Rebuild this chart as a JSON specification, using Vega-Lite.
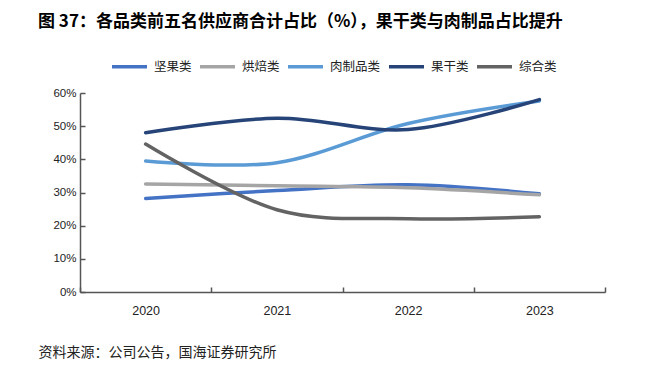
{
  "$schema": "https://vega.github.io/schema/vega-lite/v6.json",
  "autosize": {"type": "none"},
  "padding": {"left": 80, "top": 93, "right": 42, "bottom": 80},
  "width": 525,
  "height": 199,
  "background": "white",
  "title": {
    "text": "图 37：各品类前五名供应商合计占比（%），果干类与肉制品占比提升",
    "anchor": "start",
    "frame": "group",
    "dx": -42,
    "offset": 16,
    "font": "Noto Sans CJK SC",
    "fontSize": 17,
    "fontWeight": "bold",
    "color": "#000000"
  },
  "data": {
    "values": [
      {"year": "2020", "cat": "坚果类", "value": 28.2},
      {"year": "2021", "cat": "坚果类", "value": 30.6},
      {"year": "2022", "cat": "坚果类", "value": 32.3},
      {"year": "2023", "cat": "坚果类", "value": 29.6},
      {"year": "2020", "cat": "烘焙类", "value": 32.6},
      {"year": "2021", "cat": "烘焙类", "value": 32.0},
      {"year": "2022", "cat": "烘焙类", "value": 31.4},
      {"year": "2023", "cat": "烘焙类", "value": 29.3},
      {"year": "2020", "cat": "肉制品类", "value": 39.5},
      {"year": "2021", "cat": "肉制品类", "value": 39.0},
      {"year": "2022", "cat": "肉制品类", "value": 50.8},
      {"year": "2023", "cat": "肉制品类", "value": 57.6},
      {"year": "2020", "cat": "果干类", "value": 48.0},
      {"year": "2021", "cat": "果干类", "value": 52.4},
      {"year": "2022", "cat": "果干类", "value": 49.0},
      {"year": "2023", "cat": "果干类", "value": 58.0},
      {"year": "2020", "cat": "综合类", "value": 44.6},
      {"year": "2021", "cat": "综合类", "value": 24.8},
      {"year": "2022", "cat": "综合类", "value": 22.1},
      {"year": "2023", "cat": "综合类", "value": 22.7}
    ]
  },
  "mark": {"type": "line", "interpolate": "cardinal", "strokeWidth": 3.5, "strokeCap": "round"},
  "encoding": {
    "x": {
      "field": "year",
      "type": "ordinal",
      "bandPosition": 0.5,
      "scale": {"type": "band", "paddingInner": 0, "paddingOuter": 0},
      "axis": {
        "title": "资料来源：公司公告，国海证券研究所",
        "titleAnchor": "start",
        "titleAlign": "left",
        "titleX": -42,
        "titleY": 60,
        "titleBaseline": "middle",
        "titleFont": "Noto Sans CJK SC",
        "titleFontSize": 14,
        "titleFontWeight": "normal",
        "titleColor": "#222222",
        "labelAngle": 0,
        "labelFont": "Liberation Sans",
        "labelFontSize": 12.5,
        "labelColor": "#222222",
        "labelPadding": 17,
        "tickBand": "extent",
        "tickSize": -5,
        "tickColor": "#555555",
        "tickWidth": 1.5,
        "domainColor": "#555555",
        "domainWidth": 1.5,
        "grid": false
      }
    },
    "y": {
      "field": "value",
      "type": "quantitative",
      "scale": {"domain": [0, 60]},
      "axis": {
        "title": null,
        "values": [0, 10, 20, 30, 40, 50, 60],
        "labelExpr": "datum.value + '%'",
        "labelFont": "Liberation Sans",
        "labelFontSize": 11.5,
        "labelColor": "#222222",
        "labelPadding": 9,
        "tickSize": -5,
        "tickColor": "#555555",
        "tickWidth": 1.5,
        "domainColor": "#555555",
        "domainWidth": 1.5,
        "grid": false
      }
    },
    "color": {
      "field": "cat",
      "type": "nominal",
      "scale": {
        "domain": ["坚果类", "烘焙类", "肉制品类", "果干类", "综合类"],
        "range": ["#4472C4", "#A5A5A5", "#5B9BD5", "#264478", "#636363"]
      },
      "legend": {
        "title": null,
        "orient": "none",
        "legendX": 30,
        "legendY": -46,
        "direction": "horizontal",
        "columns": 5,
        "symbolType": "stroke",
        "symbolSize": 1225,
        "symbolStrokeWidth": 3.5,
        "labelFont": "Noto Sans CJK SC",
        "labelFontSize": 12.5,
        "labelColor": "#222222",
        "labelOffset": 5,
        "columnPadding": 1
      }
    }
  },
  "config": {"view": {"stroke": null}}
}
